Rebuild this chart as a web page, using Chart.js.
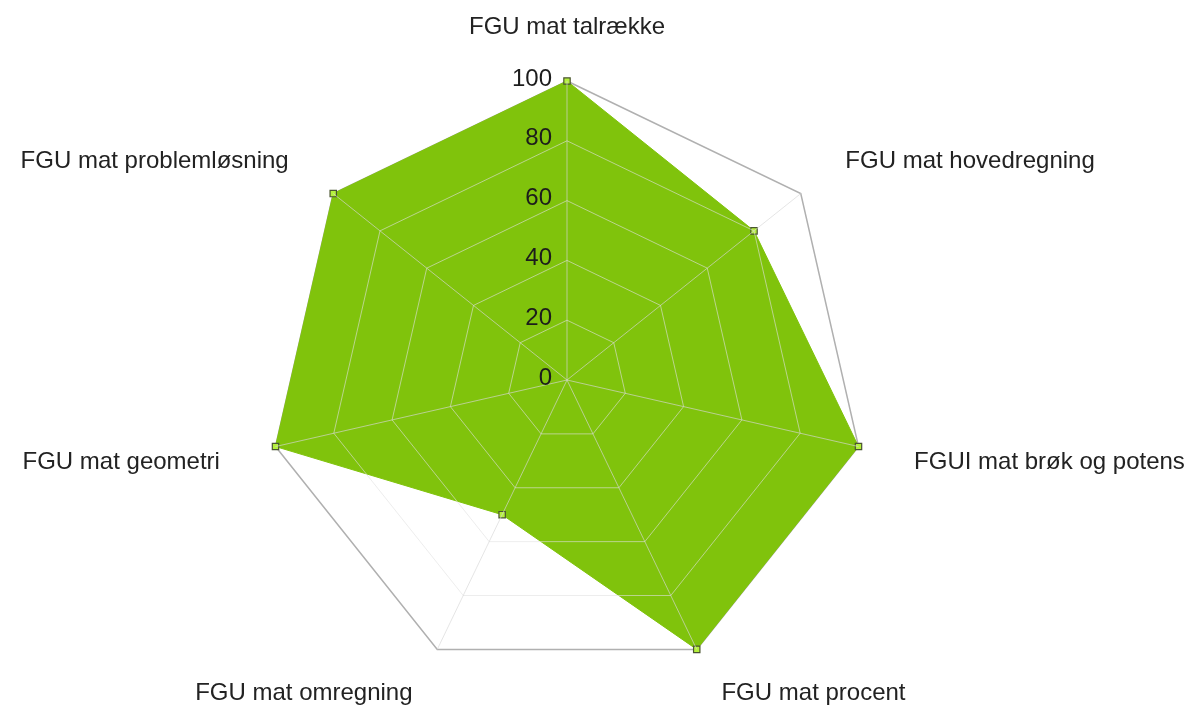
<!DOCTYPE html>
<html lang="da">
  <head>
    <meta charset="UTF-8" />
    <title>FGU mat radar</title>
    <script src="https://cdn.jsdelivr.net/npm/chart.js"></script>
    <style>
      html, body { margin: 0; padding: 0; background: #fff; }
      #wrap { width: 1194px; height: 713px; position: relative; }
    </style>
  </head>
  <body>
    <div id="wrap"><canvas id="radarChart"></canvas></div>

    <script>
      const categories = [
        'FGU mat talrække',
        'FGU mat hovedregning',
        'FGUI mat brøk og potens',
        'FGU mat procent',
        'FGU mat omregning',
        'FGU mat geometri',
        'FGU mat problemløsning'
      ];
      const scores = [100, 80, 100, 100, 50, 100, 100];
      const tickValues = [0, 20, 40, 60, 80, 100];

      const labelFont = '24px "Liberation Sans", Arial, sans-serif';

      // outer ring sits under the filled area
      const outerRing = {
        id: 'outerRing',
        beforeDatasetsDraw(chart) {
          const ctx = chart.ctx;
          const r = chart.scales.r;
          ctx.save();
          ctx.strokeStyle = '#b0b0b0';
          ctx.lineWidth = 1.5;
          ctx.beginPath();
          categories.forEach((c, i) => {
            const p = r.getPointPosition(i, r.getDistanceFromCenterForValue(100));
            if (i === 0) ctx.moveTo(p.x, p.y); else ctx.lineTo(p.x, p.y);
          });
          ctx.closePath();
          ctx.stroke();
          ctx.restore();
        }
      };

      // draws the axis numbers left of the vertical axis and the category labels
      const labelPlugin = {
        id: 'labelPlugin',
        afterDraw(chart) {
          const ctx = chart.ctx;
          const r = chart.scales.r;
          ctx.save();
          ctx.font = labelFont;
          ctx.fillStyle = '#1c1c1c';
          ctx.textAlign = 'right';
          ctx.textBaseline = 'middle';
          tickValues.forEach(v => {
            const y = r.yCenter - r.getDistanceFromCenterForValue(v) - 2;
            ctx.fillText(String(v), r.xCenter - 15, y);
          });

          ctx.fillStyle = '#222';
          categories.forEach((text, i) => {
            const p = r.getPointPosition(i, r.drawingArea + 57);
            const dx = p.x - r.xCenter;
            ctx.textAlign = Math.abs(dx) < 5 ? 'center' : (dx > 0 ? 'left' : 'right');
            const y = Math.min(p.y + 3, chart.height - 20);
            ctx.fillText(text, p.x, y);
          });
          ctx.restore();
        }
      };

      new Chart(document.getElementById('radarChart'), {
        type: 'radar',
        data: {
          labels: categories,
          datasets: [{
            data: scores,
            backgroundColor: '#80c30c',
            borderColor: '#80c30c',
            borderWidth: 1,
            fill: true,
            pointStyle: 'rect',
            pointRadius: 4.5,
            pointBackgroundColor: '#b4f03c',
            pointBorderColor: '#4a5530',
            pointBorderWidth: 1.2
          }]
        },
        options: {
          responsive: true,
          maintainAspectRatio: false,
          animation: false,
          layout: { padding: { top: 81, bottom: 34, left: 0, right: 60 } },
          plugins: { legend: { display: false }, tooltip: { enabled: false } },
          scales: {
            r: {
              min: 0,
              max: 100,
              ticks: { stepSize: 20, display: false },
              pointLabels: { display: false },
              grid: {
                z: 1,
                color: c => c.index === 5 ? 'rgba(0,0,0,0)' : 'rgba(225,225,225,0.6)',
                lineWidth: 1
              },
              angleLines: { color: 'rgba(215,215,215,0.65)', lineWidth: 1 }
            }
          }
        },
        plugins: [outerRing, labelPlugin]
      });
    </script>
  </body>
</html>
